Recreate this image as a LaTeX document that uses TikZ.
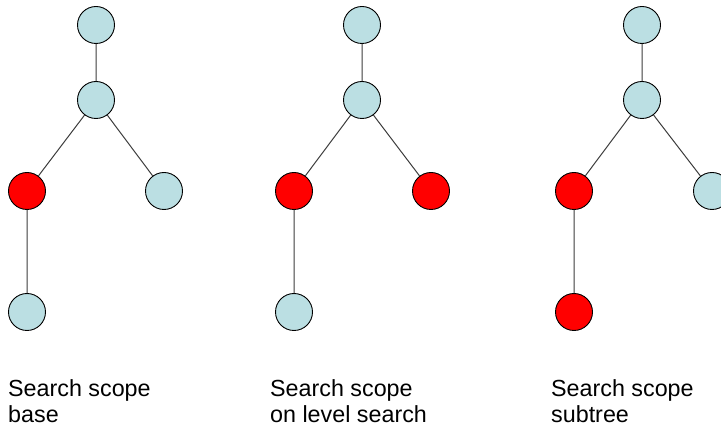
\documentclass[tikz,border=0pt]{standalone}
\usepackage{fontspec}
\setmainfont{Liberation Sans}
\definecolor{nodeblue}{RGB}{187,223,227}
\definecolor{hitred}{RGB}{255,0,0}
\definecolor{edgegray}{RGB}{60,60,60}
\begin{document}
\begin{tikzpicture}[x=1pt,y=-1pt,
  vtx/.style={circle,draw=black,line width=0.9pt,minimum size=37pt,inner sep=0pt,fill=nodeblue},
  hit/.style={vtx,fill=hitred},
  edge/.style={draw=edgegray,line width=1pt},
  caption/.style={anchor=base west,align=left,inner sep=0pt,font=\fontsize{23.3}{26}\selectfont}]
\useasboundingbox (0,0) rectangle (721,430);

% base scope
\node[vtx] (a1) at (96,25) {};
\node[vtx] (b1) at (96,100) {};
\node[hit] (l1) at (27,191) {};
\node[vtx] (r1) at (164,191) {};
\node[vtx] (d1) at (27,312) {};
\draw[edge] (a1) -- (b1) (b1) -- (l1) (b1) -- (r1) (l1) -- (d1);

% one-level scope
\node[vtx] (a2) at (362,25) {};
\node[vtx] (b2) at (362,100) {};
\node[hit] (l2) at (294,191) {};
\node[hit] (r2) at (431,191) {};
\node[vtx] (d2) at (294,312) {};
\draw[edge] (a2) -- (b2) (b2) -- (l2) (b2) -- (r2) (l2) -- (d2);

% subtree scope
\node[vtx] (a3) at (642,25) {};
\node[vtx] (b3) at (642,100) {};
\node[hit] (l3) at (574,191) {};
\node[vtx] (r3) at (712,191) {};
\node[hit] (d3) at (574,312) {};
\draw[edge] (a3) -- (b3) (b3) -- (l3) (b3) -- (r3) (l3) -- (d3);

% captions: the anchor sits on the baseline of the second line
\node[caption] (t1) at (8,423) {Search scope\\base};
\node[caption] (t2) at (270,423) {Search scope\\on level search};
\node[caption] (t3) at (551,423) {Search scope\\subtree};
\end{tikzpicture}
\end{document}
